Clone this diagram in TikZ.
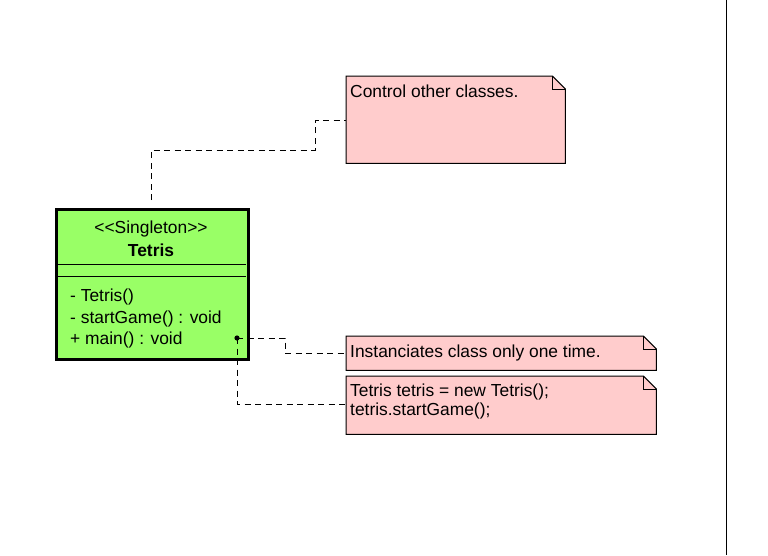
\documentclass[tikz,border=0pt]{standalone}
\usepackage{fontspec}
\setmainfont{Liberation Sans}
\definecolor{classgreen}{HTML}{99FF66}
\definecolor{notepink}{HTML}{FFCCCC}
\begin{document}
\begin{tikzpicture}[x=1pt,y=-1pt,
  font=\fontsize{17.4}{19.5}\selectfont,
  classbox/.style={draw=black, line width=3pt, fill=classgreen, anchor=north west, inner sep=0pt},
  noteframe/.style={anchor=north west, inner sep=0pt, draw=none},
  notetext/.style={anchor=base west, inner sep=0pt, align=left},
  memb/.style={anchor=base west, inner sep=0pt},
  centred/.style={anchor=base, inner sep=0pt},
  dashlink/.style={dash pattern=on 6pt off 4.5pt, line width=1pt},
  sep/.style={line width=1pt}]
\useasboundingbox (0,0) rectangle (768,555);
\fill[white] (0,0) rectangle (768,555);
% right margin line
\coordinate (vtop) at (726,0);
\coordinate (vbot) at (726,555);
\draw[line width=1pt] (vtop) -- (vbot);

% notes
\newcommand{\drawnote}[1]{%
  \fill[notepink] (#1.north west) -- ([xshift=-13pt]#1.north east) -- ([yshift=-13pt]#1.north east) -- (#1.south east) -- (#1.south west) -- cycle;
  \draw[line width=1pt] (#1.north west) -- ([xshift=-13pt]#1.north east) -- ([yshift=-13pt]#1.north east) -- (#1.south east) -- (#1.south west) -- cycle;
  \draw[line width=1pt] ([xshift=-13pt]#1.north east) -- ([xshift=-13pt,yshift=-13pt]#1.north east) -- ([yshift=-13pt]#1.north east);}

\node[noteframe, minimum width=219pt, minimum height=87pt] (n1) at (346,76) {};
\drawnote{n1}
\node[notetext] (t1) at (350,97) {Control other classes.};

\node[noteframe, minimum width=310pt, minimum height=34pt] (n2) at (346,336) {};
\drawnote{n2}
\node[notetext] (t2) at (350,357) {Instanciates class only one time.};

\node[noteframe, minimum width=310pt, minimum height=58pt] (n3) at (346,376) {};
\drawnote{n3}
\node[notetext] (t3a) at (350,396) {Tetris tetris = new Tetris();};
\node[notetext] (t3b) at (350,415) {tetris.startGame();};

% class
\node[classbox, minimum width=192pt, minimum height=150pt] (cls) at (55,208) {};
\draw[sep] (56,264.5) -- (246,264.5);
\draw[sep] (56,276.5) -- (246,276.5);
\node[centred] (stereo) at (151,233) {{<}{<}Singleton{>}{>}};
\node[centred, font=\fontsize{17.4}{19.5}\selectfont\bfseries] (cname) at (151,256) {Tetris};
\node[memb] (m1) at (70,301) {- Tetris()};
\node[memb] (m2) at (70,323) {- startGame() : void};
\node[memb] (m3) at (70,344) {+ main() : void};

% connectors
\coordinate (clstop) at (151,200);
\draw[dashlink] (clstop) -- (151,150) -- (315,150) -- (315,120) -- (n1.west |- 0,120);
\coordinate (dot) at (237,338);
\fill (dot) circle (2.6pt);
\draw[dashlink] (dot) -- (285,338) -- (285,353) -- (n2.west |- 0,353);
\draw[dashlink] (dot) -- (237,404) -- (n3.west |- 0,404);
\end{tikzpicture}
\end{document}
